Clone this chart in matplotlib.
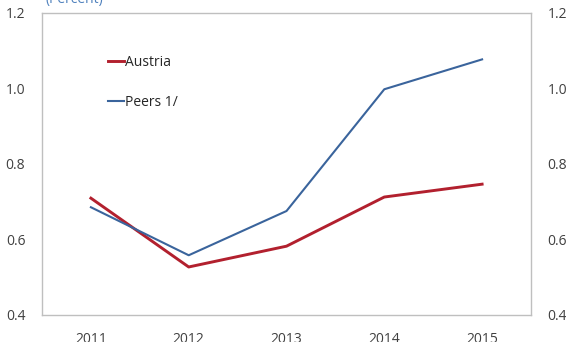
import matplotlib
matplotlib.use("Agg")
import matplotlib.pyplot as plt

years = ["2011", "2012", "2013", "2014", "2015"]
austria = [0.709, 0.527, 0.582, 0.712, 0.746]
peers = [0.685, 0.558, 0.675, 0.997, 1.076]
yticks = [0.4, 0.6, 0.8, 1.0, 1.2]

plt.rcParams['font.family'] = ['Open Sans', 'DejaVu Sans']

W, H = 566, 342
fig = plt.figure(figsize=(W / 100, H / 100), dpi=100)
ax = fig.add_axes([42 / W, 1 - 315 / H, (531 - 42) / W, (315 - 12.5) / H])

x = range(len(years))
ax.plot(x, austria, color="#B2202E", lw=2.1, label="Austria")
ax.plot(x, peers, color="#3A649C", lw=1.5, label="Peers 1/")

ax.set_xlim(-0.5, len(years) - 0.5)
ax.set_ylim(0.4, 1.2)
ax.set_xticks(list(x))
ax.set_xticklabels(years)
ax.set_yticks(yticks)
ax.set_yticklabels([f"{v:.1f}" for v in yticks])
ax.tick_params(axis="both", length=0, labelsize=10, colors="#404040")
ax.tick_params(axis="y", pad=12, labelright=True, right=False)
ax.tick_params(axis="x", pad=12)
for s in ax.spines.values():
    s.set_color("#BFBFBF")
    s.set_linewidth(1.0)

leg = ax.legend(loc="upper left", bbox_to_anchor=(0.11, 0.90), frameon=False,
                handlelength=1.1, handletextpad=0.1, labelspacing=1.8,
                fontsize=10)
for t in leg.get_texts():
    t.set_color("#262626")

fig.text(45 / W, 1 - 0 / H, "(Percent)", color="#4F81BD", fontsize=10,
         ha="left", va="center")

fig.savefig("out.png", dpi=100)
